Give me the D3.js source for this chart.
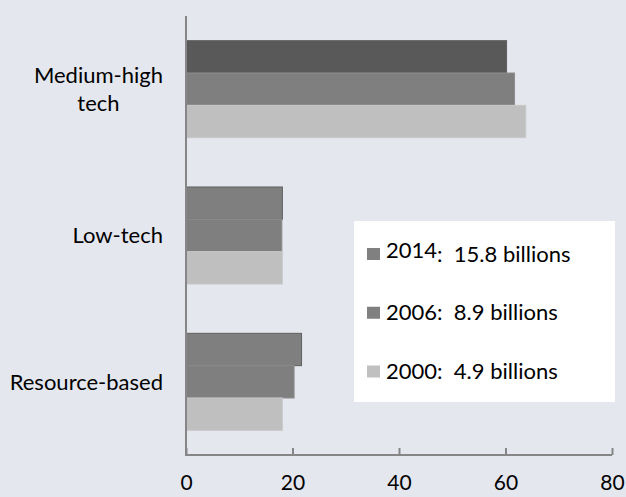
<!DOCTYPE html>
<html>
<head>
<meta charset="utf-8">
<script src="https://cdn.jsdelivr.net/npm/d3@7/dist/d3.min.js"></script>
<style>
  html, body { margin: 0; padding: 0; background: #e4e7ee; }
  svg { display: block; font-family: Lato, "Open Sans", sans-serif; }
</style>
</head>
<body>
<svg id="chart" width="626" height="497"></svg>
<script>
// Sectors, top to bottom
const categories = ["Medium-high tech", "Low-tech", "Resource-based"];
const categoryLines = [["Medium-high", "tech"], ["Low-tech"], ["Resource-based"]];
// Years, drawn top to bottom inside each sector
const years = ["2014", "2006", "2000"];
const values2014 = [60.2, 18.1, 21.7];
const values2006 = [61.7, 18.0, 20.3];
const values2000 = [63.8, 18.1, 18.1];
const xTicks = [0, 20, 40, 60, 80];
// Legend rows
const legendYears = ["2014", "2006", "2000"];
const legendTotals = ["15.8 billions", "8.9 billions", "4.9 billions"];

const seriesValues = { "2014": values2014, "2006": values2006, "2000": values2000 };
const barFill = {
  "2014": ["#595959", "#7f7f7f", "#7f7f7f"],
  "2006": ["#7f7f7f", "#7f7f7f", "#7f7f7f"],
  "2000": ["#bfbfbf", "#bfbfbf", "#bfbfbf"]
};
const barStroke = { "2014": "#5f5f5f", "2006": "#8e8e8e", "2000": "#c9c9c9" };
const legendFill = ["#808080", "#808080", "#c0c0c0"];

const svg = d3.select("#chart");
const plotLeft = 186, plotRight = 612, plotTop = 16, plotBottom = 455;

const x = d3.scaleLinear().domain([0, 80]).range([plotLeft, plotRight]);
const y = d3.scaleBand().domain(categories).range([plotTop, plotBottom])
  .paddingInner(0.337).paddingOuter(0.1685);
const yInner = d3.scaleBand().domain(years).range([0, y.bandwidth()]);

const rows = categories.flatMap((c, i) =>
  years.map(yr => ({ cat: c, i, year: yr, value: seriesValues[yr][i] })));

// Bars
svg.append("g").selectAll("rect").data(rows).join("rect")
  .attr("x", x(0))
  .attr("y", d => y(d.cat) + yInner(d.year))
  .attr("width", d => x(d.value) - x(0))
  .attr("height", yInner.bandwidth())
  .attr("fill", d => barFill[d.year][d.i])
  .attr("stroke", d => barStroke[d.year])
  .attr("stroke-width", 1);

// Bottom axis with ticks pointing up
const xAxis = d3.axisBottom(x).tickValues(xTicks).tickSize(-7).tickPadding(20)
  .tickFormat(d3.format("d"));
const gx = svg.append("g").attr("transform", `translate(0,${plotBottom})`).call(xAxis);
gx.select(".domain").attr("stroke", "#868686").attr("stroke-width", 2)
  .attr("d", `M${plotLeft},0H${plotRight}`);
gx.selectAll(".tick line").attr("stroke", "#868686").attr("stroke-width", 2);
gx.selectAll(".tick text").attr("font-size", 21).attr("fill", "#000")
  .attr("font-family", "Lato, 'Open Sans', sans-serif");

// Left axis line
svg.append("line")
  .attr("x1", plotLeft).attr("x2", plotLeft).attr("y1", plotTop).attr("y2", plotBottom + 1)
  .attr("stroke", "#868686").attr("stroke-width", 2);

// Category labels
const catLabels = svg.append("g").selectAll("text").data(categories).join("text")
  .attr("text-anchor", "middle")
  .attr("font-size", 22)
  .attr("fill", "#000");
catLabels.each(function (c, i) {
  const lines = categoryLines[i];
  const lineH = 28;
  const cy = y(c) + y.bandwidth() / 2 - (lines.length - 1) * lineH / 2;
  const t = d3.select(this);
  const labelRight = 163;
  lines.forEach((ln, k) => {
    t.append("tspan").attr("x", 0).attr("y", cy + k * lineH)
      .attr("dy", "0.35em").text(ln);
  });
  // right-align the block while centring its lines on each other
  const bb = this.getBBox();
  t.attr("transform", `translate(${labelRight - bb.width / 2},0)`);
});

// Legend box
const legend = svg.append("g");
legend.append("rect").attr("x", 354).attr("y", 221).attr("width", 261).attr("height", 181)
  .attr("fill", "#fff");
const rowY = d3.scalePoint().domain(legendYears).range([254, 371.5]);
legendYears.forEach((yr, i) => {
  const cy = rowY(yr);
  legend.append("rect").attr("x", 367).attr("y", cy - 6).attr("width", 13).attr("height", 12)
    .attr("fill", legendFill[i]);
  const t = legend.append("text").attr("x", 386).attr("y", cy)
    .attr("font-size", 22).attr("fill", "#000");
  t.append("tspan").attr("dy", i === 0 ? "0.2em" : "0.35em").text(yr);
  t.append("tspan").attr("dy", i === 0 ? "0.15em" : "0").text(":\u00a0 " + legendTotals[i]);
});
</script>
</body>
</html>
